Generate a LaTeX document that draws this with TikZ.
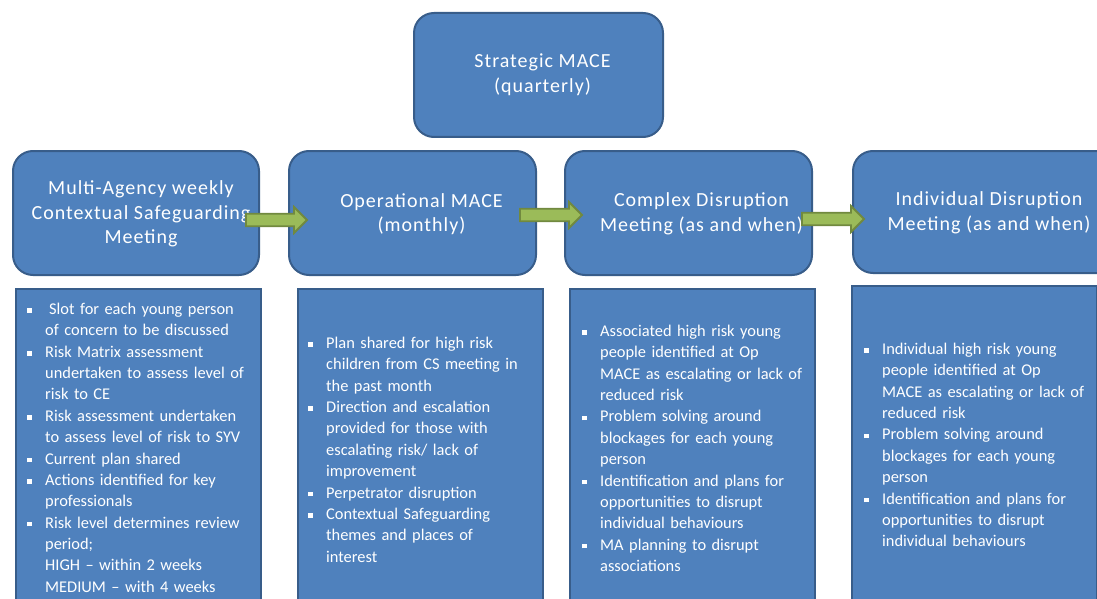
\documentclass[tikz,border=0pt]{standalone}
\usepackage{fontspec}
\setmainfont{Carlito}
\newfontfamily\headfont[LetterSpace=5]{Carlito}
\usetikzlibrary{calc}

\definecolor{boxblue}{HTML}{4F81BD}
\definecolor{boxedge}{HTML}{385D8A}
\definecolor{arrowgreen}{HTML}{9BBB59}
\definecolor{arrowedge}{HTML}{71893F}

% bullet list item: small white square, hanging indent for wrapped lines
\newlength\bulind
\setlength\bulind{18pt}
\newcommand\bitem[1]{\par\noindent\hangindent=\bulind\hangafter=1%
  \makebox[\bulind][l]{\raisebox{1.6pt}{\rule{4.6pt}{4.6pt}}}\strut#1\par}

% green block arrow from a start coordinate to a tip coordinate
\newcommand\blockarrow[2]{%
  \draw[greenarrow] ($(#1)+(0,-6.3)$) -- ($(#2)+(-13,-6.3)$) -- ($(#2)+(-13,-13)$)
    -- (#2) -- ($(#2)+(-13,13)$) -- ($(#2)+(-13,6.3)$) -- ($(#1)+(0,6.3)$) -- cycle;}

\begin{document}
\begin{tikzpicture}[x=1pt,y=-1pt,
  headbox/.style={draw=boxedge, fill=boxblue, line width=2pt, rounded corners=20pt,
    minimum height=124pt, inner sep=0pt, anchor=north west},
  headtext/.style={text=white, align=center, inner sep=0pt,
    font=\headfont\fontsize{20}{24.6}\selectfont},
  listbox/.style={draw=boxedge, fill=boxblue, line width=1.6pt, inner sep=0pt,
    minimum width=245pt, minimum height=340pt, anchor=north west},
  listtext/.style={text=white, inner sep=0pt, anchor=north west, text width=260pt,
    font=\fontsize{16.4}{21.35}\selectfont},
  greenarrow/.style={draw=arrowedge, fill=arrowgreen, line width=1.8pt, line join=miter}]

\useasboundingbox (0,0) rectangle (1097,599);
\clip (0,0) rectangle (1097,599);

% top level meeting
\node[headbox, minimum width=249pt] (strat) at (413,12) {};
\node[headtext] (strattxt) at ($(strat.center)+(4,0)$) {Strategic MACE\\(quarterly)};

% second row of meetings
\node[headbox, minimum width=246pt] (h1) at (12,150) {};
\node[headbox, minimum width=247pt] (h2) at (288,150) {};
\node[headbox, minimum width=247pt] (h3) at (564,150) {};
\node[headbox, minimum width=276pt, minimum height=122pt] (h4) at (852,150) {};

\node[headtext] (t1) at ($(h1.center)+(5,1)$) {Multi-Agency weekly\\Contextual Safeguarding\\Meeting};
\node[headtext] (t2) at ($(h2.center)+(9,1)$) {Operational MACE\\(monthly)};
\node[headtext] (t3) at ($(h3.center)+(13,1)$) {Complex Disruption\\Meeting (as and when)};
\node[headtext] (t4) at ($(h4.center)+(-2,1)$) {Individual Disruption\\Meeting (as and when)};

% detail panels
\node[listbox] (b1) at (15,288) {};
\node[listbox] (b2) at (297,288) {};
\node[listbox] (b3) at (569,288) {};
\node[listbox, minimum width=245pt] (b4) at (851,285) {};

\node[listtext] (l1) at (27,293) {\raggedright
  \bitem{\hspace{4pt}Slot for each young person\newline of concern to be discussed}
  \bitem{Risk Matrix assessment\newline undertaken to assess level of\newline risk to CE}
  \bitem{Risk assessment undertaken\newline to assess level of risk to SYV}
  \bitem{Current plan shared}
  \bitem{Actions identified for key\newline professionals}
  \bitem{Risk level determines review\newline period;\newline HIGH -- within 2 weeks\newline MEDIUM -- with 4 weeks}};

\node[listtext] (l2) at (308,327) {\raggedright
  \bitem{Plan shared for high risk\newline children from CS meeting in\newline the past month}
  \bitem{Direction and escalation\newline provided for those with\newline escalating risk/ lack of\newline improvement}
  \bitem{Perpetrator disruption}
  \bitem{Contextual Safeguarding\newline themes and places of\newline interest}};

\node[listtext] (l3) at (582,315) {\raggedright
  \bitem{Associated high risk young\newline people identified at Op\newline MACE as escalating or lack of\newline reduced risk}
  \bitem{Problem solving around\newline blockages for each young\newline person}
  \bitem{Identification and plans for\newline opportunities to disrupt\newline individual behaviours}
  \bitem{MA planning to disrupt\newline associations}};

\node[listtext] (l4) at (864,333) {\raggedright
  \bitem{Individual high risk young\newline people identified at Op\newline MACE as escalating or lack of\newline reduced risk}
  \bitem{Problem solving around\newline blockages for each young\newline person}
  \bitem{Identification and plans for\newline opportunities to disrupt\newline individual behaviours}};

% flow between meetings
\coordinate (a1s) at ($(h1.east)+(-14,7)$);
\coordinate (a1t) at ($(h2.west)+(19,7)$);
\coordinate (a2s) at ($(h2.east)+(-17,2)$);
\coordinate (a2t) at ($(h3.west)+(18,2)$);
\coordinate (a3s) at ($(h3.east)+(-11,6)$);
\coordinate (a3t) at ($(h4.west)+(12,7)$);
\blockarrow{a1s}{a1t}
\blockarrow{a2s}{a2t}
\blockarrow{a3s}{a3t}
\end{tikzpicture}
\end{document}
